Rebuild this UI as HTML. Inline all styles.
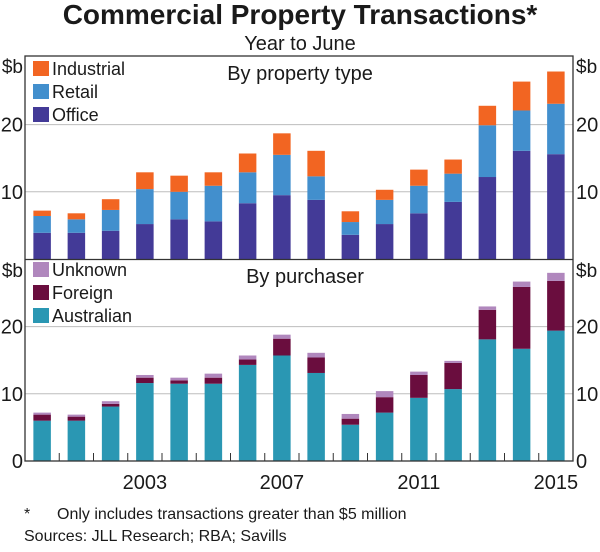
<!DOCTYPE html>
<html><head><meta charset="utf-8"><style>
body{margin:0;background:#fff;}
svg text{font-family:"Liberation Sans",Arial,sans-serif;fill:#1a1a1a;}
</style></head><body>
<svg id="chart" width="600" height="547" xmlns="http://www.w3.org/2000/svg">
<text x="300" y="24" text-anchor="middle" font-size="28" font-weight="bold">Commercial Property Transactions*</text>
<text x="300" y="50" text-anchor="middle" font-size="20">Year to June</text>
<g id="grid"></g>
<g id="bars"></g>
<g id="axes"></g>
<text x="24" y="519" font-size="16">*</text>
<text x="57" y="519" font-size="16">Only includes transactions greater than $5 million</text>
<text x="24" y="541" font-size="16">Sources:   JLL Research; RBA; Savills</text>
</svg>
<script>
const years=[2000,2001,2002,2003,2004,2005,2006,2007,2008,2009,2010,2011,2012,2013,2014,2015];
const office=[3.9,3.9,4.2,5.2,5.9,5.6,8.3,9.5,8.8,3.6,5.2,6.8,8.5,12.2,16.1,15.6];
const retail=[2.5,2.0,3.1,5.2,4.1,5.3,4.6,6.0,3.5,1.9,3.6,4.1,4.2,7.7,6.0,7.5];
const industrial=[0.8,0.9,1.6,2.5,2.4,2.0,2.8,3.2,3.8,1.6,1.5,2.4,2.1,2.9,4.3,4.8];
const australian=[6.0,6.0,8.1,11.6,11.5,11.5,14.3,15.7,13.1,5.4,7.2,9.4,10.7,18.1,16.7,19.4];
const foreign=[0.9,0.6,0.4,0.8,0.5,0.9,0.8,2.5,2.3,0.9,2.3,3.4,3.9,4.4,9.2,7.4];
const unknown=[0.3,0.3,0.4,0.4,0.4,0.6,0.6,0.6,0.7,0.7,0.9,0.5,0.3,0.5,0.8,1.2];
const yTicks=[10,20];
const yTicksBottom=[0,10,20];
const xLabels=[2003,2007,2011,2015];

const NS='http://www.w3.org/2000/svg';
const L=25,R=573,slot=(R-L)/years.length,bw=17.5;
const panels=[{top:56,bottom:259},{top:260,bottom:461}];
const pxPer=6.72;
function xc(i){return L+slot*(i+0.5);}
function y(p,v){return panels[p].bottom-v*pxPer;}
function mk(tag,attrs,parent){const e=document.createElementNS(NS,tag);for(const k in attrs)e.setAttribute(k,attrs[k]);parent.appendChild(e);return e;}
const grid=document.getElementById('grid'),bars=document.getElementById('bars'),axes=document.getElementById('axes');

[0,1].forEach(p=>{
  yTicks.forEach(t=>{
    const g=mk('line',{x1:L,x2:R,y1:y(p,t),y2:y(p,t),stroke:'#bdbdbd','stroke-width':1},grid);
    
    
  });
  const ticks=p===0?yTicks:yTicksBottom;
  ticks.forEach(t=>{
    [[L-2,'end'],[R+3,'start']].forEach(([x,a])=>{
      const tx=mk('text',{x:x,y:y(p,t)+7,'text-anchor':a,'font-size':20},axes);
      tx.textContent=t;
      
      
    });
  });
  [[L-2,'end'],[R+3,'start']].forEach(([x,a])=>{
    const u=mk('text',{x:x,y:panels[p].top+17,'text-anchor':a,'font-size':19},axes);
    u.textContent='$b';
    
    
  });
});

function stack(p,series,colors,names){
  years.forEach((yr,i)=>{
    let base=0;
    series.forEach((s,k)=>{
      const v=s[i];
      const r=mk('rect',{x:xc(i)-bw/2,y:y(p,base+v),width:bw,height:v*pxPer,fill:colors[k]},bars);
      
      
      base+=v;
    });
  });
}
stack(0,[office,retail,industrial],['#433a97','#428fcd','#f26522'],['office','retail','industrial']);
stack(1,[australian,foreign,unknown],['#2a97b3','#6a0d3e','#b087bd'],['australian','foreign','unknown']);

const f=mk('rect',{x:L,y:56,width:R-L,height:405,fill:'none',stroke:'#333','stroke-width':1.3},axes);


const d=mk('line',{x1:L,x2:R,y1:259.5,y2:259.5,stroke:'#333','stroke-width':1.3},axes);


for(let k=1;k<years.length;k++){
  const t=mk('line',{x1:L+slot*k,x2:L+slot*k,y1:461,y2:453,stroke:'#333','stroke-width':1},axes);
  
  
}
xLabels.forEach(yr=>{
  const i=years.indexOf(yr);
  const t=mk('text',{x:xc(i),y:489,'text-anchor':'middle','font-size':20},axes);
  t.textContent=yr;
  
  
});
const t1=mk('text',{x:300,y:80,'text-anchor':'middle','font-size':20},axes);t1.textContent='By property type';


const t2=mk('text',{x:305,y:283,'text-anchor':'middle','font-size':20},axes);t2.textContent='By purchaser';


function legend(items,y0){
  items.forEach((it,k)=>{
    const yy=y0+k*23;
    const s=mk('rect',{x:33,y:yy,width:16,height:15,fill:it[1]},axes);
    
    
    const t=mk('text',{x:52,y:yy+14,'font-size':18},axes);t.textContent=it[0];
    
    
  });
}
legend([['Industrial','#f26522'],['Retail','#428fcd'],['Office','#433a97']],61);
legend([['Unknown','#b087bd'],['Foreign','#6a0d3e'],['Australian','#2a97b3']],262);
</script>
</body></html>
